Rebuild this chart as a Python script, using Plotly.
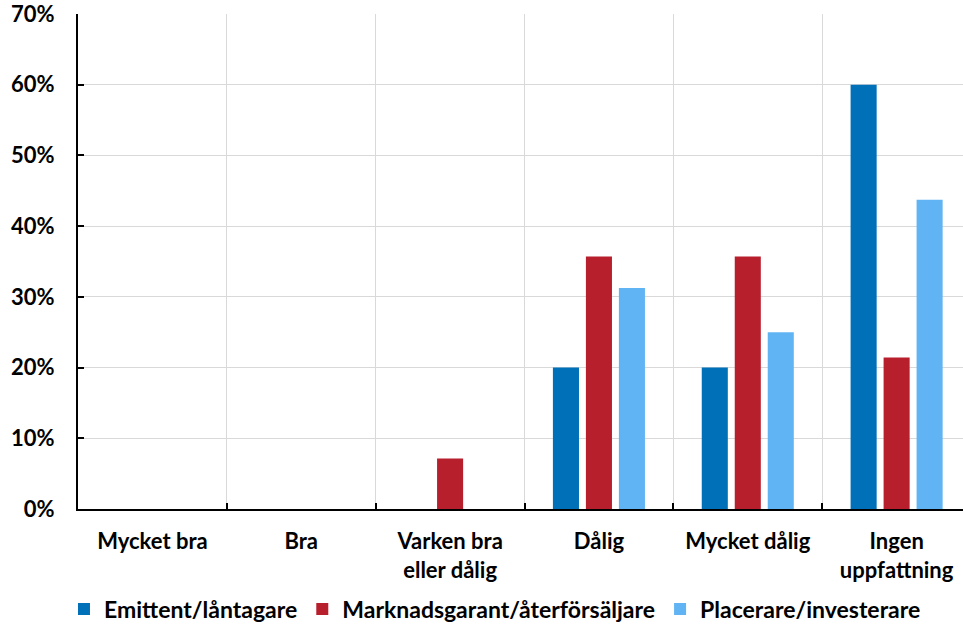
import plotly.graph_objects as go

categories = ["Mycket bra", "Bra", "Varken bra<br>eller dålig", "Dålig", "Mycket dålig", "Ingen<br>uppfattning"]
emittent = [0, 0, 0, 20.0, 20.0, 60.0]
marknadsgarant = [0, 0, 7.14, 35.71, 35.71, 21.43]
placerare = [0, 0, 0, 31.25, 25.0, 43.75]
y_ticks = [0, 10, 20, 30, 40, 50, 60, 70]

series = [
    ("Emittent/låntagare", emittent, "#0070B8"),
    ("Marknadsgarant/återförsäljare", marknadsgarant, "#B81F2D"),
    ("Placerare/investerare", placerare, "#61B4F4"),
]

FONT = "Lato"
FS = 22

fig = go.Figure()
for name, vals, color in series:
    fig.add_trace(go.Bar(
        x=categories, y=vals, name=name,
        marker=dict(color=color, line=dict(width=0)),
    ))

fig.update_layout(
    width=963, height=624,
    margin=dict(l=78, r=0, t=14, b=115, autoexpand=False),
    paper_bgcolor="white", plot_bgcolor="white",
    barmode="group", bargap=0.335, bargroupgap=0.21,
    font=dict(family=FONT, size=FS, color="black"),
    showlegend=True,
    legend=dict(
        orientation="h", xref="container", x=0.514, xanchor="center",
        yref="container", y=1 - 609 / 624, yanchor="middle",
        font=dict(family=FONT, size=23, color="black", weight="bold"),
        itemwidth=30, traceorder="normal",
    ),
)
fig.update_xaxes(
    type="category", range=[-0.5, 5.446],
    tickson="boundaries", ticks="inside", ticklen=6, tickwidth=2, tickcolor="black",
    showgrid=True, gridcolor="#D9D9D9", gridwidth=1,
    showline=True, linecolor="black", linewidth=2,
    tickfont=dict(family=FONT, size=FS, color="black", weight="bold"),
    ticklabelstandoff=12, ticklabeloverflow="allow", automargin=False,
    fixedrange=True,
)
fig.update_yaxes(
    range=[0, 70], tickvals=y_ticks, ticktext=[f"{v}%" for v in y_ticks],
    ticks="inside", ticklen=6, tickwidth=2, tickcolor="black",
    showgrid=True, gridcolor="#D9D9D9", gridwidth=1,
    showline=True, linecolor="black", linewidth=2, zeroline=False,
    tickfont=dict(family=FONT, size=FS, color="black", weight="bold"),
    ticklabelstandoff=17, ticklabeloverflow="allow", automargin=False,
    fixedrange=True,
)

fig.write_html("out.html")
